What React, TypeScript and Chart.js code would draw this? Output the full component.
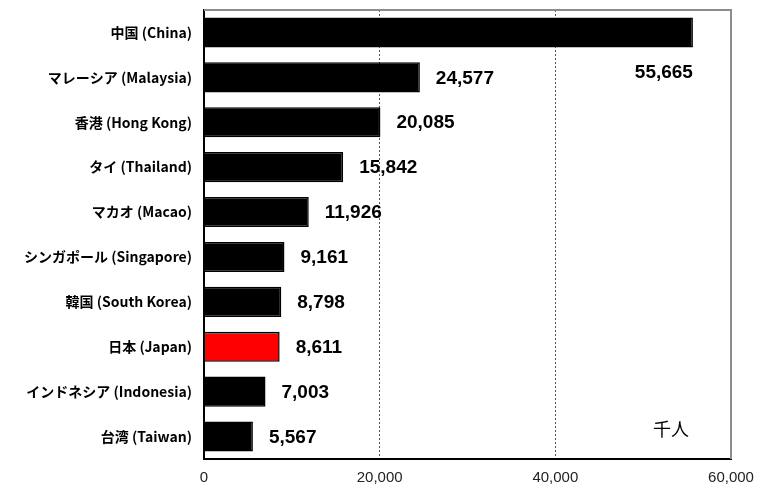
import React, { useEffect, useRef } from "react";
import { Chart, registerables } from "chart.js";

Chart.register(...registerables);

const categories = [
  "中国 (China)",
  "マレーシア (Malaysia)",
  "香港 (Hong Kong)",
  "タイ (Thailand)",
  "マカオ (Macao)",
  "シンガポール (Singapore)",
  "韓国 (South Korea)",
  "日本 (Japan)",
  "インドネシア (Indonesia)",
  "台湾 (Taiwan)",
];
const values = [55665, 24577, 20085, 15842, 11926, 9161, 8798, 8611, 7003, 5567];
const barColors = values.map((_, i) => (i === 7 ? "#ff0000" : "#000000"));
const xTicks = [0, 20000, 40000, 60000];
const unitLabel = "千人";

const fmt = (v: number) => v.toLocaleString("en-US");

export default function App() {
  const ref = useRef<HTMLCanvasElement | null>(null);

  useEffect(() => {
    document.body.style.margin = "0";
    const canvas = ref.current;
    if (!canvas) return;

    const overlay = {
      id: "overlay",
      beforeDatasetsDraw(chart: any) {
        const { ctx, chartArea } = chart;
        ctx.save();
        ctx.strokeStyle = "#8c8c8c";
        ctx.lineWidth = 2;
        ctx.beginPath();
        ctx.moveTo(chartArea.left, chartArea.top);
        ctx.lineTo(chartArea.right, chartArea.top);
        ctx.lineTo(chartArea.right, chartArea.bottom);
        ctx.stroke();
        ctx.restore();
      },
      afterDatasetsDraw(chart: any) {
        const { ctx, chartArea } = chart;
        const meta = chart.getDatasetMeta(0);
        ctx.save();
        ctx.fillStyle = "#000";
        ctx.font = "bold 19px 'Liberation Sans', Arial, sans-serif";
        ctx.textBaseline = "middle";
        meta.data.forEach((bar: any, i: number) => {
          const txt = fmt(values[i]);
          if (i === 0) {
            ctx.textAlign = "right";
            ctx.fillText(txt, bar.x, bar.y + 40);
          } else {
            ctx.textAlign = "left";
            ctx.fillText(txt, bar.x + 16, bar.y + 1);
          }
        });
        ctx.font = "18px 'Noto Sans CJK JP', sans-serif";
        ctx.textAlign = "left";
        ctx.fillText(unitLabel, chartArea.right - 78, chartArea.bottom - 30);
        ctx.restore();
      },
    };

    const chart = new Chart(canvas, {
      type: "bar",
      data: {
        labels: categories,
        datasets: [
          {
            data: values,
            backgroundColor: barColors,
            borderColor: "#000",
            borderWidth: 1.5,
            barPercentage: 0.67,
            categoryPercentage: 1,
          },
        ],
      },
      options: {
        indexAxis: "y",
        animation: false,
        responsive: false,
        maintainAspectRatio: false,
        layout: { padding: { top: 10, right: 40, left: 0, bottom: 0 } },
        plugins: { legend: { display: false }, tooltip: { enabled: false } },
        scales: {
          x: {
            min: 0,
            max: 60000,
            afterFit: (s: any) => {
              s.height = 27;
              s.paddingLeft = 0;
              s.paddingRight = 0;
            },
            afterBuildTicks: (s: any) => {
              s.ticks = xTicks.map((v) => ({ value: v }));
            },
            ticks: {
              callback: (v: any) => fmt(Number(v)),
              color: "#222",
              padding: 10,
              maxRotation: 0,
              font: { size: 15, family: "'Liberation Sans', Arial, sans-serif" },
            },
            grid: {
              drawTicks: false,
              color: (c: any) =>
                c.tick && (c.tick.value === 0 || c.tick.value === 60000) ? "rgba(0,0,0,0)" : "#555",
              lineWidth: 1,
            },
            border: { color: "#000", width: 2, dash: [2, 2], display: true },
          } as any,
          y: {
            afterFit: (s: any) => {
              s.width = 204;
              s.paddingTop = 0;
              s.paddingBottom = 0;
            },
            ticks: {
              color: "#000",
              padding: 12,
              font: { size: 14, weight: "bold", family: "'Noto Sans CJK JP', sans-serif" },
            },
            grid: { display: false, drawTicks: false },
            border: { color: "#000", width: 2 },
          },
        },
      },
      plugins: [overlay],
    });
    return () => chart.destroy();
  }, []);

  return (
    <div style={{ width: 771, height: 486 }}>
      <canvas ref={ref} width={771} height={486} style={{ display: "block" }} />
    </div>
  );
}
